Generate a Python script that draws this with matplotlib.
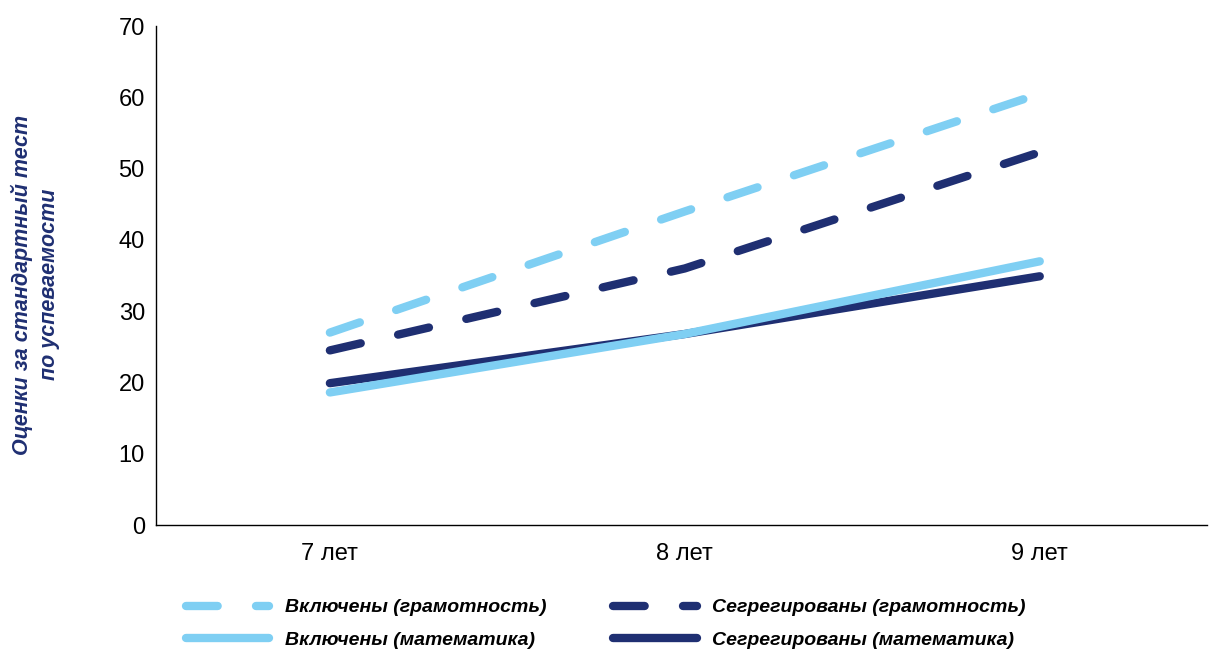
import matplotlib.pyplot as plt

ages = ['7 лет', '8 лет', '9 лет']
incl_lit = [27.0, 44.0, 60.5]
segr_lit = [24.5, 36.0, 52.3]
incl_math = [18.6, 26.8, 37.0]
segr_math = [19.9, 26.8, 34.9]

light = '#7fcff3'
dark = '#1f2f72'

plt.rcParams['font.family'] = ['Liberation Sans', 'DejaVu Sans']

fig = plt.figure(figsize=(12.09, 6.53), dpi=100)
ax = fig.add_axes([0.129, 0.196, 0.869, 0.764])

x = range(len(ages))
lw = 6.0
ax.plot(x, incl_lit, color=light, lw=lw, dashes=(3.8, 4.6), dash_capstyle='round',
        solid_capstyle='round', label='Включены (грамотность)')
ax.plot(x, segr_lit, color=dark, lw=lw, dashes=(3.8, 4.6), dash_capstyle='round',
        solid_capstyle='round', label='Сегрегированы (грамотность)')
ax.plot(x, segr_math, color=dark, lw=lw, solid_capstyle='round',
        label='Сегрегированы (математика)')
ax.plot(x, incl_math, color=light, lw=lw, solid_capstyle='round',
        label='Включены (математика)')

ax.set_xlim(-0.49, 2.47)
ax.set_ylim(0, 70)
ax.set_yticks(range(0, 71, 10))
ax.set_xticks(list(x))
ax.set_xticklabels(ages)
ax.tick_params(length=0, labelsize=17)
ax.tick_params(axis='x', pad=13)
ax.tick_params(axis='y', pad=8)
for s in ['top', 'right']:
    ax.spines[s].set_visible(False)
for s in ['left', 'bottom']:
    ax.spines[s].set_linewidth(1.0)

fig.text(0.029, 0.564, 'Оценки за стандартный тест\nпо успеваемости', rotation=90,
         ha='center', va='center', color=dark, fontsize=15.5, fontweight='bold',
         fontstyle='italic', linespacing=1.4)

h, l = ax.get_legend_handles_labels()
order = [0, 3, 1, 2]
leg = fig.legend([h[i] for i in order], [l[i] for i in order], ncol=2,
                 loc='lower left', bbox_to_anchor=(0.139, -0.02), frameon=False,
                 handlelength=4.3, handletextpad=0.8, columnspacing=3.45,
                 labelspacing=0.75,
                 prop={'weight': 'bold', 'style': 'italic', 'size': 14})

fig.savefig('out.png', dpi=100)
